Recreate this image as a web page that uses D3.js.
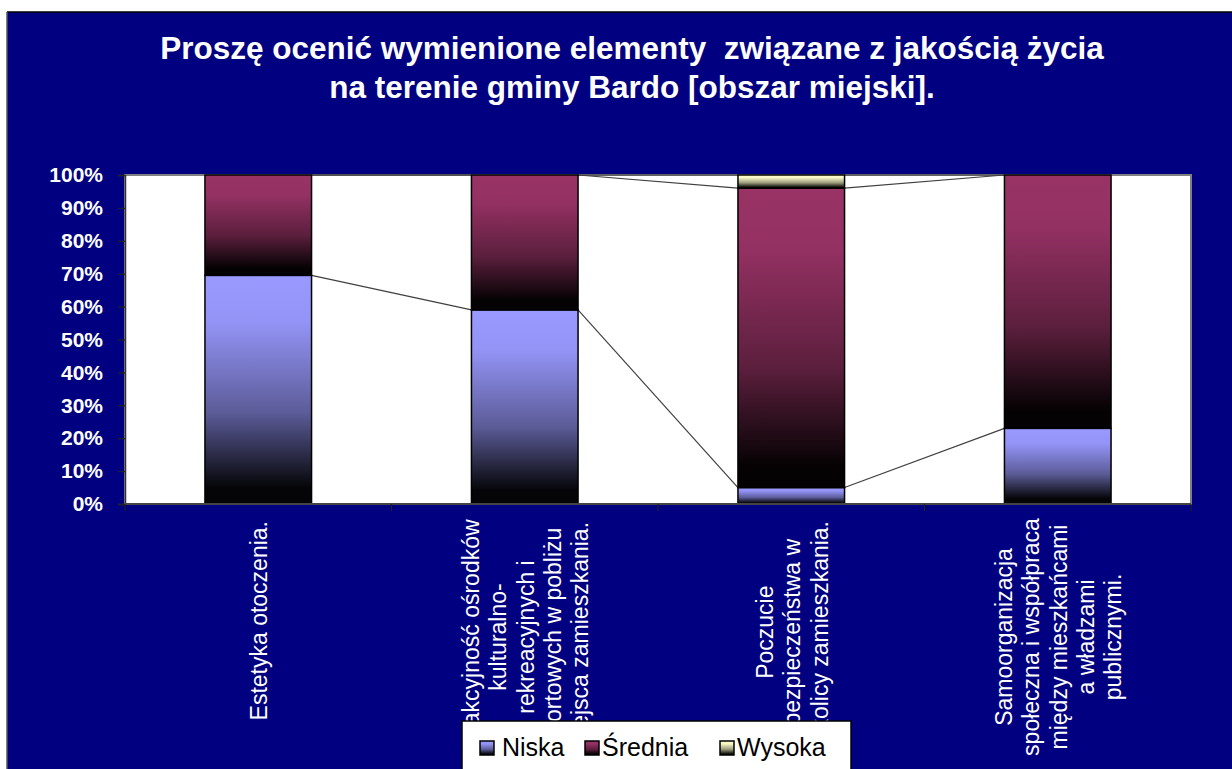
<!DOCTYPE html>
<html><head><meta charset="utf-8">
<script src="https://cdn.jsdelivr.net/npm/d3@7"></script>
<style>html,body{margin:0;padding:0;background:#fff;}svg{display:block;}</style>
</head><body>
<svg id="chart" width="1232" height="769"></svg>
<script>
const titleLines = ["Proszę ocenić wymienione elementy  związane z jakością życia", "na terenie gminy Bardo [obszar miejski]."];
const categories = [
  ["Estetyka otoczenia."],
  ["Atrakcyjność ośrodków", "kulturalno-", "rekreacyjnych i", "sportowych w pobliżu", "miejsca zamieszkania."],
  ["Poczucie", "bezpieczeństwa w", "okolicy zamieszkania."],
  ["Samoorganizacja", "społeczna i współpraca", "między mieszkańcami", "a władzami", "publicznymi."]
];
const seriesNames = ["Niska", "Średnia", "Wysoka"];
const niska = [69.5, 59, 5, 23];
const srednia = [30.5, 41, 91, 77];
const wysoka = [0, 0, 4, 0];
const yTicks = [0, 10, 20, 30, 40, 50, 60, 70, 80, 90, 100];
const yTickLabels = ["0%", "10%", "20%", "30%", "40%", "50%", "60%", "70%", "80%", "90%", "100%"];
const seriesColors = ["#9999ff", "#993366", "#ffffcc"];

const svg = d3.select("#chart");
const W = 1232, H = 769;
const FONT = "'Liberation Sans', Arial, sans-serif";

// background frame
svg.append("rect").attr("x", 0).attr("y", 0).attr("width", W).attr("height", H).attr("fill", "#fff");
svg.append("rect").attr("x", 7).attr("y", 12).attr("width", W).attr("height", H).attr("fill", "#000080");
svg.append("line").attr("x1", 7).attr("x2", W).attr("y1", 12).attr("y2", 12).attr("stroke", "#000").attr("stroke-width", 1.5);
svg.append("line").attr("x1", 7).attr("x2", 7).attr("y1", 12).attr("y2", H).attr("stroke", "#555").attr("stroke-width", 1.5);

// gradients
const defs = svg.append("defs");
seriesColors.forEach((c, i) => {
  const g = defs.append("linearGradient").attr("id", "grad" + i)
    .attr("x1", 0).attr("y1", 0).attr("x2", 0).attr("y2", 1);
  const dark = d3.interpolateRgb(c, "#000")(0.97);
  g.append("stop").attr("offset", "0").attr("stop-color", c);
  g.append("stop").attr("offset", "0.2").attr("stop-color", d3.interpolateRgb(c, "#000")(0.03));
  g.append("stop").attr("offset", "0.6").attr("stop-color", d3.interpolateRgb(c, "#000")(0.4));
  g.append("stop").attr("offset", "0.93").attr("stop-color", dark);
  g.append("stop").attr("offset", "1").attr("stop-color", dark);
});

// title
svg.append("g").selectAll("text").data(titleLines).join("text")
  .attr("x", 632).attr("y", (d, i) => 59 + i * 38.5)
  .attr("text-anchor", "middle").attr("fill", "#fff")
  .attr("font-family", FONT).attr("font-weight", "bold").attr("font-size", 31.5)
  .style("white-space", "pre")
  .text(d => d);

// scales
const plot = {x0: 125, x1: 1191, y0: 175, y1: 504};
const x = d3.scaleBand().domain(d3.range(categories.length)).range([plot.x0, plot.x1]).paddingInner(0).paddingOuter(0);
const barW = x.bandwidth() * 0.4;
const barX = i => x(i) + (x.bandwidth() - barW) / 2;
const y = d3.scaleLinear().domain([0, 100]).range([plot.y1, plot.y0]);

// plot area
svg.append("rect").attr("x", plot.x0).attr("y", plot.y0).attr("width", plot.x1 - plot.x0).attr("height", plot.y1 - plot.y0)
  .attr("fill", "#fff").attr("stroke", "#808080").attr("stroke-width", 2);

// data stacking
const rows = categories.map((c, i) => ({i, Niska: niska[i], "Średnia": srednia[i], Wysoka: wysoka[i]}));
const stacked = d3.stack().keys(seriesNames)(rows);

// series lines
const lineG = svg.append("g");
stacked.forEach(s => {
  for (let i = 0; i < s.length - 1; i++) {
    lineG.append("line")
      .attr("x1", barX(i) + barW).attr("y1", y(s[i][1]))
      .attr("x2", barX(i + 1)).attr("y2", y(s[i + 1][1]))
      .attr("stroke", "#404040").attr("stroke-width", 1.2);
  }
});

// bars
stacked.forEach((s, k) => {
  svg.append("g").selectAll("rect").data(s.filter(d => d[1] - d[0] > 0)).join("rect")
    .attr("x", d => barX(d.data.i)).attr("width", barW)
    .attr("y", d => y(d[1])).attr("height", d => y(d[0]) - y(d[1]))
    .attr("fill", "url(#grad" + k + ")").attr("stroke", "#000").attr("stroke-width", 1.5);
});

// y axis
const yAxis = svg.append("g").attr("transform", `translate(${plot.x0},0)`)
  .call(d3.axisLeft(y).tickValues(yTicks).tickFormat((d, i) => yTickLabels[i]).tickSize(7).tickPadding(15));
yAxis.select(".domain").attr("stroke", "#333").attr("stroke-width", 1.5);
yAxis.selectAll(".tick line").attr("stroke", "#222").attr("stroke-width", 1.2);
yAxis.selectAll("text").attr("fill", "#fff").attr("font-family", FONT).attr("font-weight", "bold").attr("font-size", 21);

// x axis
const xAxis = svg.append("g").attr("transform", `translate(0,${plot.y1})`);
xAxis.append("line").attr("x1", plot.x0).attr("x2", plot.x1).attr("y1", 0).attr("y2", 0).attr("stroke", "#444").attr("stroke-width", 2);
xAxis.selectAll("line.tk").data(d3.range(categories.length + 1)).join("line").attr("class", "tk")
  .attr("x1", i => i < categories.length ? x(i) : plot.x1).attr("x2", i => i < categories.length ? x(i) : plot.x1)
  .attr("y1", 0).attr("y2", 7).attr("stroke", "#222").attr("stroke-width", 1.2);

// x labels (rotated); block centred within available label depth
const labelTop = 521, lineH = 27.3, labelDepth = 232;
categories.forEach((lines, i) => {
  const cx = x(i) + x.bandwidth() / 2;
  const g = svg.append("g");
  const t = g.append("text").attr("fill", "#fff").attr("font-family", FONT).attr("font-size", 23)
    .attr("text-anchor", "middle");
  const spans = lines.map((ln, j) => t.append("tspan").text(ln));
  const maxW = d3.max(spans, s => s.node().getComputedTextLength());
  const n = lines.length;
  spans.forEach((s, j) => s.attr("x", 0).attr("y", (j - (n - 1) / 2) * lineH).attr("dominant-baseline", "central"));
  t.attr("transform", `translate(${cx + 1},${labelTop + Math.min(maxW, labelDepth) / 2}) rotate(-90)`);
});

// legend
const lg = svg.append("g");
lg.append("rect").attr("x", 462).attr("y", 721).attr("width", 389).attr("height", 70)
  .attr("fill", "#fff").attr("stroke", "#000").attr("stroke-width", 1.5);
const legendX = [480, 585, 720];
seriesNames.forEach((name, k) => {
  lg.append("rect").attr("x", legendX[k]).attr("y", 741).attr("width", 14).attr("height", 14)
    .attr("fill", "url(#grad" + k + ")").attr("stroke", "#000").attr("stroke-width", 1.5);
  lg.append("text").attr("x", legendX[k] + (k === 0 ? 22 : 17)).attr("y", 756)
    .attr("font-family", FONT).attr("font-size", 25).attr("fill", "#000").text(name);
});
</script>
</body></html>
